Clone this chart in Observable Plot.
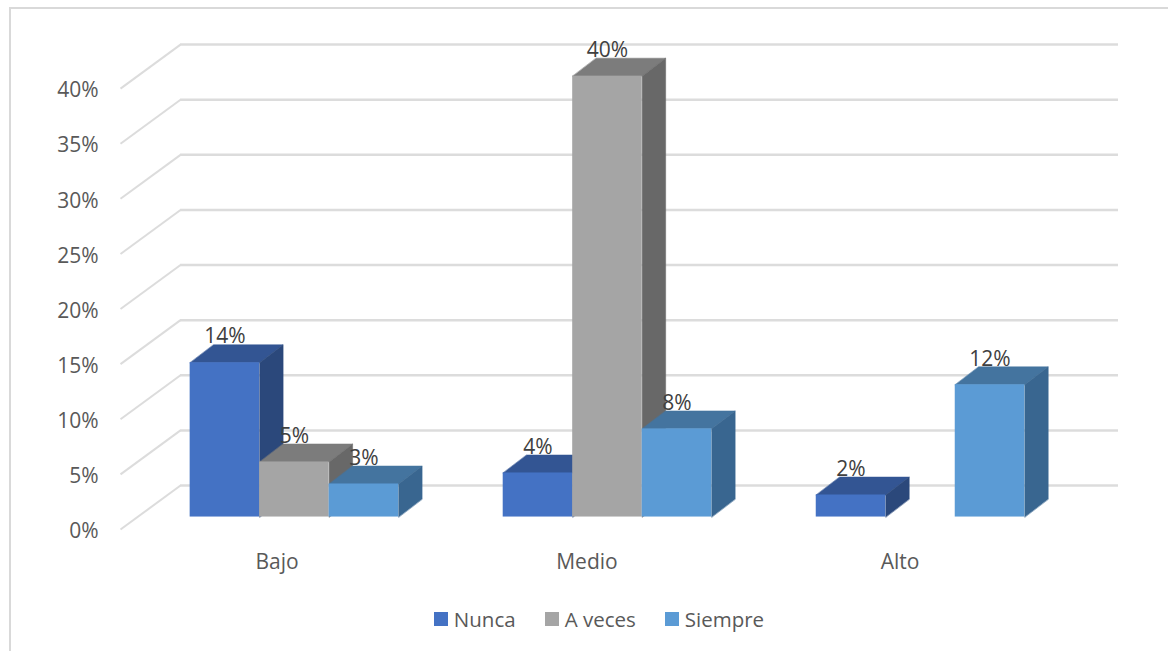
<!DOCTYPE html>
<html>
<head>
<meta charset="utf-8">
<script src="https://cdn.jsdelivr.net/npm/d3@7"></script>
<script src="https://cdn.jsdelivr.net/npm/@observablehq/plot@0.6"></script>
<style>
  html, body { margin: 0; padding: 0; background: #fff; }
  body { width: 1168px; height: 651px; overflow: hidden; position: relative; font-family: "Open Sans", sans-serif; }
  #frame { position: absolute; left: 9px; top: 7px; right: 0; bottom: 0; border-left: 2px solid #d9d9d9; border-top: 2px solid #d9d9d9; pointer-events: none; }
  #chart { position: relative; }
  #chart svg { display: block; background: transparent; }
  #legend { position: relative; height: 38px; display: flex; justify-content: center; align-items: center; gap: 29px; margin-left: 30px; color: #595959; font-size: 20.5px; }
  #legend .item { display: flex; align-items: center; gap: 6px; }
  #legend .sw { width: 14px; height: 14px; display: inline-block; }
</style>
</head>
<body>
<div id="frame"></div>
<div id="chart"></div>
<div id="legend"></div>
<script>
const categories = ["Bajo", "Medio", "Alto"];
const seriesNames = ["Nunca", "A veces", "Siempre"];
const nunca = [14, 4, 2];
const aVeces = [5, 40, null];
const siempre = [3, 8, 12];
const seriesValues = [nunca, aVeces, siempre];
const yTicks = [0, 5, 10, 15, 20, 25, 30, 35, 40];
const categoryTicks = [0.5, 1.49, 2.49];
const frontColors = ["#4472c4", "#a5a5a5", "#5b9bd5"];
const topColors = ["#335593", "#7c7c7c", "#44749f"];
const sideColors = ["#2b487b", "#686868", "#396690"];

// Oblique projection, expressed in data units (x: categories, y: percent)
const wallDx = 0.1917, wallDy = 3.99;
const barDx = 0.075, barDy = 1.63;
const barStart = 0.2225, barWidth = 0.222, barBase = 1.13;

const bars = [];
categories.forEach((category, c) => {
  seriesNames.forEach((series, s) => {
    const value = seriesValues[s][c];
    if (value == null) return;
    const x1 = c + barStart + s * barWidth;
    bars.push({category, series, s, value, x1, x2: x1 + barWidth, y1: barBase, y2: barBase + value});
  });
});

const faces = [];
bars.forEach((b, i) => {
  [[`t${i}`, topColors[b.s], [[b.x1, b.y2], [b.x2, b.y2], [b.x2 + barDx, b.y2 + barDy], [b.x1 + barDx, b.y2 + barDy]]],
   [`s${i}`, sideColors[b.s], [[b.x2, b.y1], [b.x2, b.y2], [b.x2 + barDx, b.y2 + barDy], [b.x2 + barDx, b.y1 + barDy]]]]
    .forEach(([id, color, pts]) => pts.forEach(([x, y]) => faces.push({id, color, x, y})));
});

const xBack = 3.188;
const plot = Plot.plot({
  width: 1168,
  height: 600,
  marginLeft: 120,
  marginRight: 50,
  marginTop: 44,
  marginBottom: 71,
  style: {fontFamily: "'Open Sans', sans-serif", fontSize: "21px", background: "transparent", overflow: "visible"},
  x: {domain: [0, xBack], axis: null},
  y: {domain: [0, 44], axis: null},
  color: {type: "identity"},
  marks: [
    Plot.link(yTicks, {x1: 0, y1: d => d, x2: wallDx, y2: d => d + wallDy, stroke: "#dcdcdc", strokeWidth: 2}),
    Plot.ruleY(yTicks, {y: d => d + wallDy, x1: wallDx, x2: xBack, stroke: "#dcdcdc", strokeWidth: 2.5}),
    Plot.axisY({ticks: yTicks, tickSize: 0, tickPadding: 22, tickFormat: d => d + "%", label: null, color: "#595959", fontSize: 21, dy: 2}),
    Plot.axisX({ticks: categoryTicks, tickSize: 0, tickPadding: 25, tickFormat: d => categories[categoryTicks.indexOf(d)], label: null, color: "#595959", fontSize: 21}),
    Plot.line(faces, {x: "x", y: "y", z: "id", fill: "color", stroke: "color", strokeWidth: 0.5, curve: "linear-closed"}),
    Plot.rect(bars, {x1: "x1", x2: "x2", y1: "y1", y2: "y2", fill: d => frontColors[d.s]}),
    Plot.text(bars, {x: d => (d.x1 + d.x2) / 2, y: "y2", text: d => d.value + "%", dy: -26, fill: "#404040", fontSize: 21})
  ]
});
document.getElementById("chart").append(plot);

const legend = document.getElementById("legend");
seriesNames.forEach((name, i) => {
  const item = document.createElement("span");
  item.className = "item";
  const sw = document.createElement("span");
  sw.className = "sw";
  sw.style.background = frontColors[i];
  const label = document.createElement("span");
  label.textContent = name;
  item.append(sw, label);
  legend.append(item);
});
</script>
</body>
</html>
